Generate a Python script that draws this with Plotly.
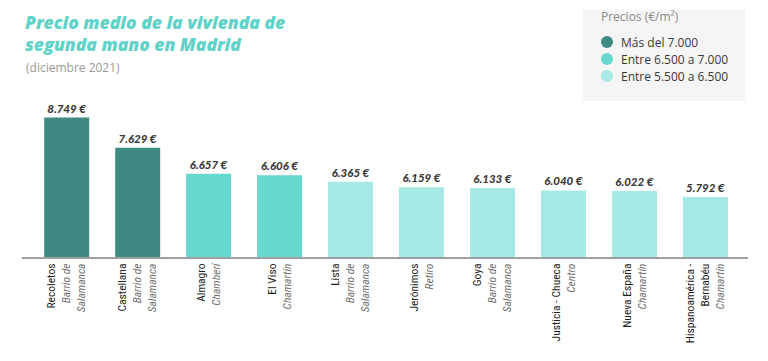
import plotly.graph_objects as go

# ---- data ----
barrios = ["Recoletos", "Castellana", "Almagro", "El Viso", "Lista", "Jerónimos",
           "Goya", "Justicia - Chueca", "Nueva España", "Hispanoamérica -<br>Bernabéu"]
distritos = ["Barrio de<br>Salamanca", "Barrio de<br>Salamanca", "Chamberí", "Chamartín",
             "Barrio de<br>Salamanca", "Retiro", "Barrio de<br>Salamanca", "Centro",
             "Chamartín", "Chamartín"]
precios = [8749, 7629, 6657, 6606, 6365, 6159, 6133, 6040, 6022, 5792]
grupo = [0, 0, 1, 1, 2, 2, 2, 2, 2, 2]
grupo_nombres = ["Más del 7.000", "Entre 6.500 a 7.000", "Entre 5.500 a 6.500"]
grupo_colores = ["#3f8a80", "#66d8ce", "#a6e9e5"]
leyenda_titulo = "Precios (€/m²)"
titulo = ["Precio medio de la vivienda de", "segunda mano en Madrid"]
subtitulo = "(diciembre 2021)"

# ---- geometry (pixels) ----
W, H = 768, 361
L, R, T, B = 22, 20, 100, 104
PW, PH = W - L - R, H - T - B


def px2x(px):
    return (px - L) / PW


def py2y(py):
    return (H - B - py) / PH


ticktext = [f"{b}<br><i><span style='color:#6e6e6e'>{d}</span></i>" for b, d in zip(barrios, distritos)]
labels = [f"{v:,}".replace(",", ".") + " €" for v in precios]
xs = list(range(len(barrios)))

fig = go.Figure()
fig.add_trace(go.Bar(
    x=xs, y=precios,
    marker=dict(color=[grupo_colores[g] for g in grupo], line=dict(width=0)),
    text=labels, textposition="outside", cliponaxis=False,
    textfont=dict(family="Lato", size=11.5, color="#3a3a3a", weight=900, style="italic"),
    showlegend=False, hoverinfo="skip",
))

shapes = [dict(type="rect", xref="paper", yref="paper",
               x0=px2x(583), x1=px2x(745), y0=py2y(101), y1=py2y(10),
               fillcolor="#f5f5f5", line=dict(width=0), layer="below")]
annotations = [
    dict(text=subtitulo, xref="paper", yref="paper", x=px2x(24), y=py2y(67),
         xanchor="left", yanchor="middle", align="left", showarrow=False,
         font=dict(family="Open Sans", size=12, color="#9a9a9a")),
    dict(text=leyenda_titulo, xref="paper", yref="paper", x=px2x(599), y=py2y(17),
         xanchor="left", yanchor="middle", showarrow=False,
         font=dict(family="Open Sans", size=12, color="#8a8a8a")),
]
for i, line in enumerate(titulo):
    annotations.append(dict(text=line, xref="paper", yref="paper", x=px2x(23), y=py2y(22 + 22 * i),
                            xanchor="left", yanchor="middle", align="left", showarrow=False,
                            font=dict(family="Open Sans", size=17.5, color="#5fd3c8",
                                      weight=800, style="italic")))
for i, (name, col) in enumerate(zip(grupo_nombres, grupo_colores)):
    cy = 42 + 17 * i
    shapes.append(dict(type="circle", xref="paper", yref="paper",
                       x0=px2x(601), x1=px2x(613), y0=py2y(cy + 6), y1=py2y(cy - 6),
                       fillcolor=col, line=dict(width=0)))
    annotations.append(dict(text=name, xref="paper", yref="paper", x=px2x(619), y=py2y(cy),
                            xanchor="left", yanchor="middle", showarrow=False,
                            font=dict(family="Open Sans", size=12, color="#3a3a3a")))

fig.update_layout(
    width=W, height=H,
    margin=dict(l=L, r=R, t=T, b=B, autoexpand=False),
    paper_bgcolor="white", plot_bgcolor="white",
    bargap=0.366, showlegend=False,
    xaxis=dict(range=[-0.63, 9.6], tickmode="array", tickvals=xs, ticktext=ticktext,
               tickangle=-90, showline=True, linecolor="#a0a0a0", linewidth=2,
               showgrid=False, zeroline=False, ticks="", automargin=False,
               tickfont=dict(family="Liberation Sans Narrow, Roboto Condensed, Arial Narrow, sans-serif",
                             size=11.5, color="#1e1e1e")),
    yaxis=dict(range=[3563, 9404], visible=False, showgrid=False, zeroline=False, automargin=False),
    shapes=shapes,
    annotations=annotations,
)

fig.write_html("out.html", config={"displayModeBar": False},
               post_script="document.body.style.margin='0';")
